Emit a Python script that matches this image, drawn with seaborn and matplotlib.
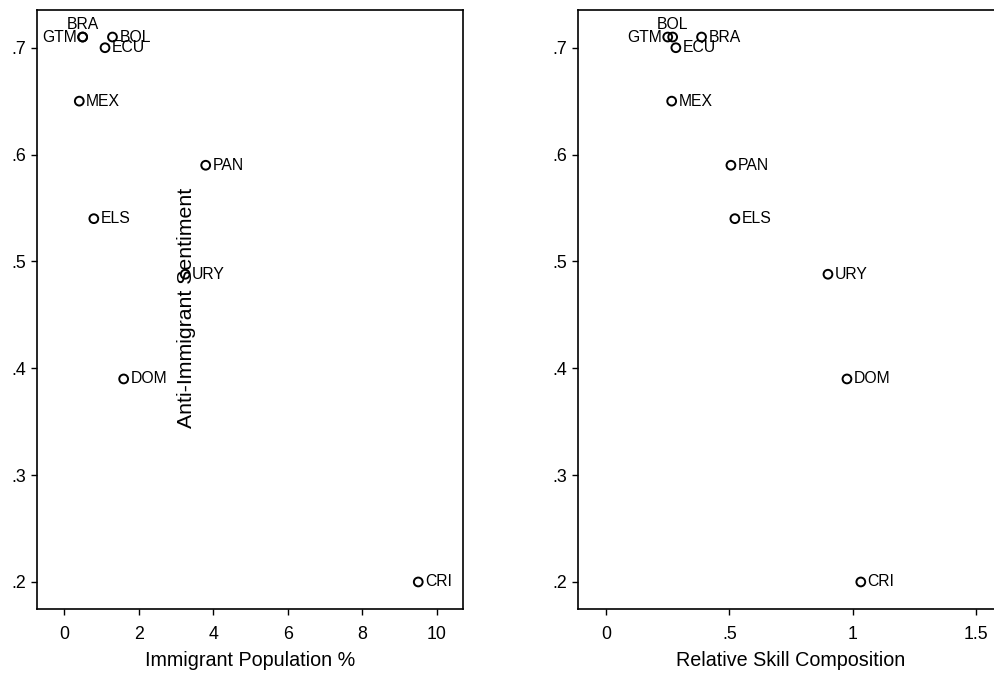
import matplotlib
matplotlib.use("Agg")
import matplotlib.pyplot as plt
import seaborn as sns
import pandas as pd

# ---- data ----
countries = ["GTM", "BRA", "BOL", "ECU", "MEX", "PAN", "ELS", "URY", "DOM", "CRI"]
immig_pct = [0.5, 0.5, 1.3, 1.1, 0.41, 3.8, 0.8, 3.25, 1.6, 9.5]
skill_comp = [0.25, 0.387, 0.27, 0.283, 0.266, 0.506, 0.522, 0.899, 0.976, 1.032]
sentiment = [0.71, 0.71, 0.71, 0.70, 0.65, 0.59, 0.54, 0.488, 0.39, 0.20]

y_ticks = [0.2, 0.3, 0.4, 0.5, 0.6, 0.7]
y_ticklabels = [".2", ".3", ".4", ".5", ".6", ".7"]
x1_ticks = [0, 2, 4, 6, 8, 10]
x1_ticklabels = ["0", "2", "4", "6", "8", "10"]
x2_ticks = [0, 0.5, 1, 1.5]
x2_ticklabels = ["0", ".5", "1", "1.5"]

# label placement (style): 'r' right, 'l' left, 'u' above
place_left = {"GTM": "l", "BRA": "u"}
place_right = {"GTM": "l", "BOL": "u"}

df = pd.DataFrame({"country": countries, "immig": immig_pct,
                   "skill": skill_comp, "sent": sentiment})

sns.set_theme(style="ticks")
plt.rcParams["font.family"] = ["Liberation Sans", "DejaVu Sans"]
plt.rcParams["text.color"] = "black"
plt.rcParams["axes.labelcolor"] = "black"
plt.rcParams["xtick.color"] = "black"
plt.rcParams["ytick.color"] = "black"

W, H = 995, 673
fig = plt.figure(figsize=(W / 100, H / 100), dpi=100)
fig.patch.set_facecolor("white")

def px_axes(l, r, t, b):
    return fig.add_axes([l / W, 1 - b / H, (r - l) / W, (b - t) / H])

ax1 = px_axes(37, 463, 10, 609)
ax2 = px_axes(578, 1004, 10, 609)

LBL = 11.3

def panel(ax, xcol, xlim, xticks, xtl, xlabel, places):
    sns.scatterplot(data=df, x=xcol, y="sent", ax=ax, marker="o", s=40,
                    facecolor="none", edgecolor="black", linewidth=1.4,
                    legend=False, clip_on=False)
    for c, xv, yv in zip(df["country"], df[xcol], df["sent"]):
        p = places.get(c, "r")
        if p == "r":
            ax.annotate(c, (xv, yv), xytext=(5, 0), textcoords="offset points",
                        ha="left", va="center", fontsize=LBL, color="black")
        elif p == "l":
            ax.annotate(c, (xv, yv), xytext=(-4, 0), textcoords="offset points",
                        ha="right", va="center", fontsize=LBL, color="black")
        else:
            ax.annotate(c, (xv, yv), xytext=(0, 3.5), textcoords="offset points",
                        ha="center", va="bottom", fontsize=LBL, color="black")
    ax.set_xlim(*xlim)
    ax.set_ylim(0.1747, 0.7353)
    ax.set_xticks(xticks)
    ax.set_xticklabels(xtl)
    ax.set_yticks(y_ticks)
    ax.set_yticklabels(y_ticklabels)
    ax.set_xlabel(xlabel, fontsize=14.2, labelpad=6.2)
    ax.set_ylabel("")
    ax.tick_params(axis="both", length=4.5, width=1.0, color="black",
                   labelsize=12.8, labelcolor="black")
    ax.tick_params(axis="x", pad=7.5)
    ax.tick_params(axis="y", pad=3)
    for s in ax.spines.values():
        s.set_color("black")
        s.set_linewidth(1.2)
    ax.set_facecolor("white")

panel(ax1, "immig", (-0.724, 10.70), x1_ticks, x1_ticklabels,
      "Immigrant Population %", place_left)
panel(ax2, "skill", (-0.1134, 1.612), x2_ticks, x2_ticklabels,
      "Relative Skill Composition", place_right)

fig.text(187 / W, 1 - 307.5 / H, "Anti-Immigrant Sentiment", rotation=90,
         ha="center", va="center", fontsize=15.3, color="black")

fig.savefig("out.png", dpi=100, facecolor="white")
